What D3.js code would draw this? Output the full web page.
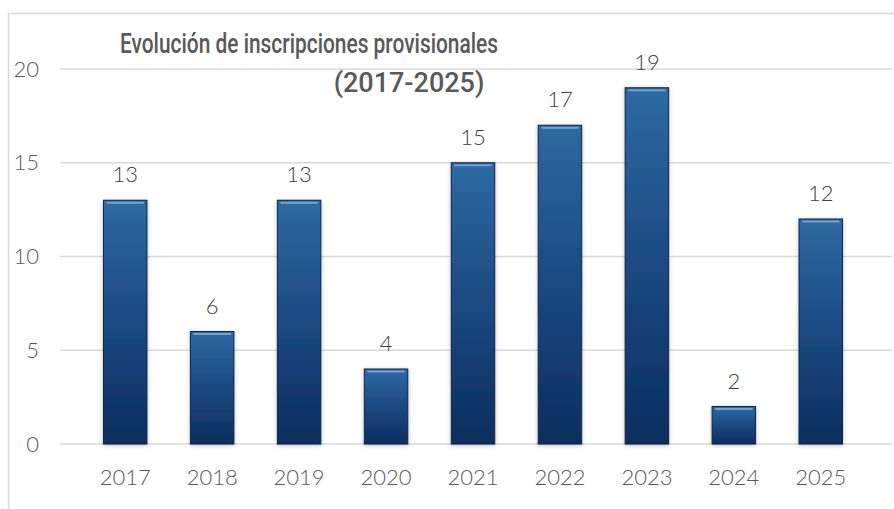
<!DOCTYPE html>
<html>
<head>
<meta charset="utf-8">
<script src="https://cdn.jsdelivr.net/npm/d3@7"></script>
<style>
  body { margin: 0; background: #fff; }
  svg { display: block; }
</style>
</head>
<body>
<div id="chart"></div>
<script>
// data
const years = ["2017", "2018", "2019", "2020", "2021", "2022", "2023", "2024", "2025"];
const counts = [13, 6, 13, 4, 15, 17, 19, 2, 12];
const yTicks = [0, 5, 10, 15, 20];
const titleLines = ["Evolución de inscripciones provisionales", "(2017-2025)"];

const W = 894, H = 509;
const margin = {top: 69, right: 5, bottom: 65, left: 60};
const width = W - margin.left - margin.right,
      height = H - margin.top - margin.bottom;

const labelFont = "'Lato', 'Open Sans', sans-serif";
const textColor = "#595959";

const svg = d3.select("#chart")
  .append("svg")
  .attr("width", W)
  .attr("height", H);

const defs = svg.append("defs");
const grad = defs.append("linearGradient")
  .attr("id", "barGrad")
  .attr("x1", 0).attr("y1", 0).attr("x2", 0).attr("y2", 1);
grad.append("stop").attr("offset", "0%").attr("stop-color", "#2e69a2");
grad.append("stop").attr("offset", "45%").attr("stop-color", "#1d4c85");
grad.append("stop").attr("offset", "100%").attr("stop-color", "#0b2d5d");

const shadow = defs.append("filter")
  .attr("id", "shadow")
  .attr("x", "-20%").attr("y", "-10%").attr("width", "140%").attr("height", "120%");
shadow.append("feDropShadow")
  .attr("dx", 0).attr("dy", 1)
  .attr("stdDeviation", 2)
  .attr("flood-color", "#000")
  .attr("flood-opacity", 0.25);

// outer frame (only top and left edges visible)
svg.append("path")
  .attr("d", `M8.5,${H} V13.5 H${W}`)
  .attr("fill", "none")
  .attr("stroke", "#d9d9d9")
  .attr("stroke-width", 1.5);

const g = svg.append("g")
  .attr("transform", `translate(${margin.left},${margin.top})`);

const x = d3.scaleBand()
  .domain(years)
  .range([0, width - 3])
  .padding(0.5);

const y = d3.scaleLinear()
  .domain([0, 20])
  .range([height, 0]);

// gridlines
g.selectAll(".grid")
  .data(yTicks)
  .join("line")
  .attr("class", "grid")
  .attr("x1", 0)
  .attr("x2", width + 3)
  .attr("y1", d => y(d))
  .attr("y2", d => y(d))
  .attr("stroke", "#d9d9d9")
  .attr("stroke-width", 1.5);

// y axis labels
const yAxis = g.append("g")
  .call(d3.axisLeft(y).tickValues(yTicks).tickSize(0).tickPadding(21));
yAxis.select(".domain").remove();
yAxis.selectAll("text")
  .style("font-family", labelFont)
  .style("font-weight", 300)
  .style("font-size", "22px")
  .style("fill", textColor);

// x axis labels
const xAxis = g.append("g")
  .attr("transform", `translate(0,${height})`)
  .call(d3.axisBottom(x).tickSize(0).tickPadding(25));
xAxis.select(".domain").remove();
xAxis.selectAll("text")
  .style("font-family", labelFont)
  .style("font-weight", 300)
  .style("font-size", "22px")
  .style("fill", textColor);

// bars
const bars = g.selectAll(".bar")
  .data(years.map((d, i) => ({year: d, value: counts[i]})))
  .join("g")
  .attr("class", "bar");

bars.append("rect")
  .attr("x", d => x(d.year))
  .attr("y", d => y(d.value))
  .attr("width", x.bandwidth())
  .attr("height", d => y(0) - y(d.value))
  .attr("fill", "url(#barGrad)")
  .attr("stroke", "#0b2548")
  .attr("stroke-width", 1)
  .attr("filter", "url(#shadow)");

// top highlight
bars.append("line")
  .attr("x1", d => x(d.year) + 3)
  .attr("x2", d => x(d.year) + x.bandwidth() - 3)
  .attr("y1", d => y(d.value) + 2.5)
  .attr("y2", d => y(d.value) + 2.5)
  .attr("stroke", "#6fa4d8")
  .attr("stroke-width", 2);

// value labels
bars.append("text")
  .attr("x", d => x(d.year) + x.bandwidth() / 2)
  .attr("y", d => y(d.value) - 18)
  .attr("text-anchor", "middle")
  .style("font-family", labelFont)
  .style("font-weight", 300)
  .style("font-size", "22px")
  .style("fill", "#404040")
  .text(d => d.value);

// title (squeezed to the reference width, the original face is condensed)
svg.append("text")
  .attr("x", 120)
  .attr("y", 53)
  .attr("textLength", 378)
  .attr("lengthAdjust", "spacingAndGlyphs")
  .style("font-family", "'Roboto', sans-serif")
  .style("font-weight", 500)
  .style("font-size", "27px")
  .style("fill", textColor)
  .text(titleLines[0]);

svg.append("text")
  .attr("x", 409)
  .attr("y", 92)
  .attr("text-anchor", "middle")
  .style("font-family", "'Roboto', sans-serif")
  .style("font-weight", 500)
  .style("font-size", "27px")
  .style("fill", textColor)
  .text(titleLines[1]);
</script>
</body>
</html>
